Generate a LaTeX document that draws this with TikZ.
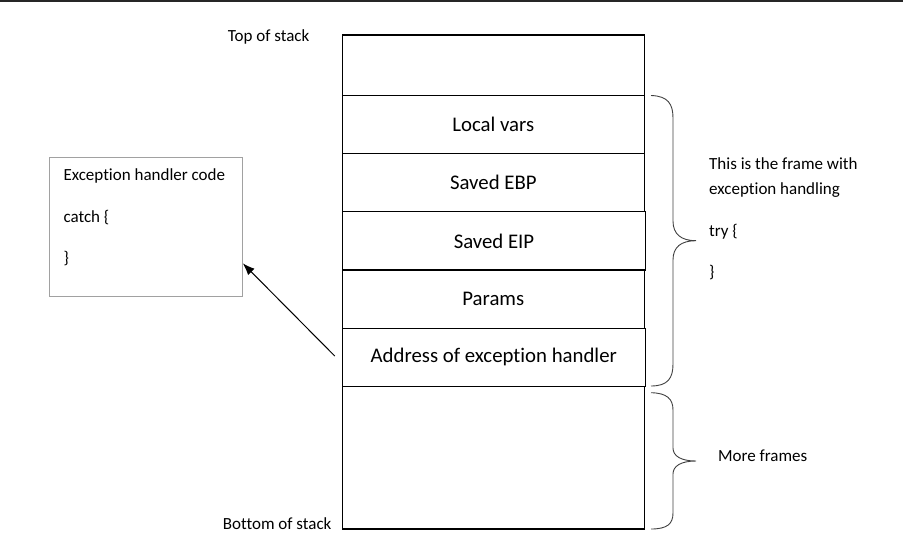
\documentclass[tikz,border=0pt]{standalone}
\usepackage{fontspec}
\setmainfont{Carlito}[Ligatures=NoCommon]
\usetikzlibrary{arrows.meta}
\begin{document}
\begin{tikzpicture}[x=1pt,y=-1pt,
  cell/.style={draw=black, line width=1.1pt, inner sep=0pt, font=\fontsize{20.8}{24}\selectfont},
  excbox/.style={draw=black!37, line width=1pt, inner sep=0pt},
  side/.style={anchor=base west, inner sep=0pt, font=\fontsize{17}{20}\selectfont},
  brace/.style={draw=black!75, line width=0.9pt},
  pointer/.style={draw=black, line width=1pt, -{Latex[length=12pt,width=9pt]}}]
\useasboundingbox (0,0) rectangle (903,550);
\draw[line width=1.5pt, black!85] (0,0.75) -- (903,0.75);
% stack cells
\node[cell, minimum width=302pt, minimum height=60.3pt] (topcell) at (493.3,65.15) {};
\node[cell, minimum width=302pt, minimum height=58pt] (local) at (493.3,124.3) {Local vars};
\node[cell, minimum width=302pt, minimum height=58.4pt] (ebp) at (493.3,182.5) {Saved EBP};
\node[cell, minimum width=303.4pt, minimum height=58.3pt] (eip) at (494,240.85) {Saved EIP};
\node[cell, minimum width=302pt, minimum height=58.3pt] (params) at (493.3,299.15) {Params};
\node[cell, minimum width=303pt, minimum height=58pt] (addr) at (493.8,357.3) {Address of exception handler};
\node[cell, minimum width=302pt, minimum height=142.7pt] (bottomcell) at (493.3,457.65) {};
% stack labels
\node[side] (toplbl) at (227.7,41.7) {Top of stack};
\node[side] (botlbl) at (222.7,529) {Bottom of stack};
% exception handler box
\node[excbox, minimum width=193pt, minimum height=138.7pt] (exc) at (145.8,226.65) {};
\node[side] (exc1) at (63.3,180.7) {Exception handler code};
\node[side] (exc2) at (63.3,222.7) {catch \{};
\node[side] (exc3) at (63.3,263.5) {\}};
% arrow
\draw[pointer] ([xshift=-7pt,yshift=1.3pt]addr.west) -- ([yshift=-36.65pt]exc.east);
% braces
\draw[brace] (651,95.5) .. controls (668,96) and (673,104) .. (673,118) -- (673,221)
  .. controls (673,234) and (681,240.7) .. (696,240.7)
  .. controls (681,240.7) and (673,247) .. (673,260) -- (673,364)
  .. controls (673,378) and (668,386) .. (651,386);
\draw[brace] (651,392.7) .. controls (667,393) and (673,399) .. (673,410) -- (673,448)
  .. controls (673,456) and (681,461) .. (696,461)
  .. controls (681,461) and (673,466) .. (673,474) -- (673,513)
  .. controls (673,524) and (667,529) .. (651,529);
% side texts
\node[side] (frame1) at (709,169) {This is the frame with};
\node[side] (frame2) at (709,194) {exception handling};
\node[side] (try1) at (709,236.7) {try \{};
\node[side] (try2) at (709,277) {\}};
\node[side] (more) at (718,461.7) {More frames};
\end{tikzpicture}
\end{document}
